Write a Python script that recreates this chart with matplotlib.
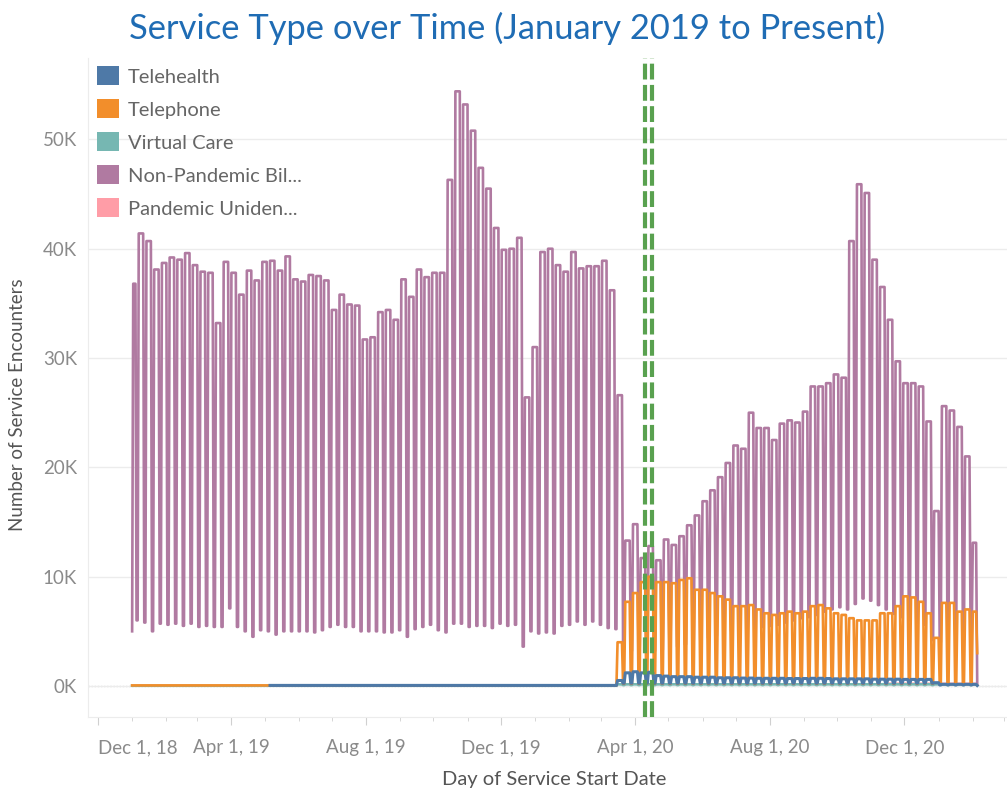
import numpy as np
import pandas as pd
import matplotlib
matplotlib.use('Agg')
import matplotlib.pyplot as plt
import matplotlib.dates as mdates
from matplotlib.patches import Patch

plt.rcParams['font.family'] = ['Lato', 'DejaVu Sans']

# weekly values (thousands of encounters), weeks start Monday Dec 31, 2018
first_monday = pd.Timestamp('2018-12-31')

# Non-Pandemic Billed: weekday peak per week
nonpan_hi = [36.8, 41.4, 40.7, 38.1, 38.7, 39.2, 39.0, 39.6, 38.5, 37.9,
             37.8, 33.2, 38.8, 37.8, 35.8, 38.0, 37.1, 38.8, 38.9, 38.0,
             39.3, 37.2, 37.0, 37.6, 37.5, 37.1, 34.4, 35.8, 34.9, 34.8,
             31.7, 31.9, 34.2, 34.4, 33.5, 37.2, 35.6, 38.1, 37.4, 37.8,
             37.8, 46.3, 54.4, 53.2, 50.8, 47.4, 45.5, 41.9, 39.9, 40.0,
             41.0, 26.4, 31.0, 39.7, 40.0, 38.5, 37.9, 39.7, 38.2, 38.4,
             38.4, 38.9, 36.2, 26.6, 13.3, 14.8, 11.7, 12.8, 11.5, 13.4,
             12.9, 13.7, 14.7, 15.6, 16.9, 17.9, 19.1, 20.4, 22.0, 21.7,
             25.0, 23.6, 23.6, 22.5, 24.0, 24.3, 24.1, 25.1, 27.4, 27.4,
             27.7, 28.5, 28.2, 40.7, 45.9, 45.1, 39.0, 36.5, 33.5, 29.7,
             27.7, 27.7, 27.4, 24.2, 16.0, 25.6, 25.2, 23.7, 21.0, 13.1]
# Non-Pandemic Billed: weekend low after each week
nonpan_lo = [6.0, 5.8, 5.0, 5.7, 5.6, 5.7, 5.5, 5.7, 5.4, 5.5,
             5.4, 5.4, 7.1, 5.4, 5.0, 4.5, 5.1, 5.0, 4.7, 5.0,
             5.0, 5.0, 5.0, 4.9, 5.1, 5.4, 5.6, 5.4, 5.4, 5.0,
             5.0, 5.0, 4.9, 4.9, 5.1, 4.5, 5.2, 5.4, 5.6, 5.1,
             4.9, 5.7, 5.7, 5.4, 5.5, 5.5, 5.3, 5.7, 5.5, 5.6,
             3.6, 5.0, 4.8, 4.9, 4.8, 5.5, 5.6, 5.9, 5.6, 5.9,
             5.6, 5.3, 5.2, 3.5, 3.2, 3.0, 3.0, 3.2, 3.3, 3.5,
             3.6, 3.8, 4.0, 4.2, 4.4, 4.6, 4.8, 5.0, 5.0, 5.2,
             5.3, 5.4, 5.5, 5.6, 5.8, 6.0, 6.2, 6.3, 6.5, 6.8,
             7.0, 7.2, 7.0, 7.5, 8.0, 7.8, 7.4, 7.0, 6.6, 6.3,
             6.0, 5.8, 5.6, 4.2, 4.0, 4.8, 5.2, 5.0, 4.8]
nonpan_first, nonpan_last = 5.0, 0.3

# Telephone
phone_hi = [0.05] * 63 + [
    4.0, 7.7, 8.5, 9.5, 10.0, 9.5, 9.5, 9.4, 9.7, 9.85,
    8.8, 8.8, 8.5, 8.2, 7.9, 7.3, 7.3, 7.4, 7.0, 6.65,
    6.5, 6.65, 6.8, 6.65, 6.8, 7.3, 7.4, 7.1, 6.65, 6.5,
    6.2, 6.0, 6.0, 6.0, 6.65, 6.65, 7.3, 8.2, 8.1, 7.7,
    6.65, 4.4, 7.6, 7.6, 6.8, 7.0, 6.8]
phone_lo = [0.05] * 63 + [0.2] * 46
phone_first, phone_last = 0.05, 3.0

# Telehealth (starts mid-May 2019)
tele_start = 18
tele_hi = [0.05] * 45 + [
    0.5, 1.2, 1.3, 1.2, 1.25, 0.95, 0.9, 0.85, 0.85, 0.85,
    0.8, 0.8, 0.8, 0.75, 0.75, 0.75, 0.72, 0.72, 0.7, 0.7,
    0.7, 0.7, 0.68, 0.68, 0.68, 0.7, 0.7, 0.68, 0.65, 0.65,
    0.65, 0.65, 0.65, 0.62, 0.62, 0.62, 0.62, 0.6, 0.6, 0.6,
    0.6, 0.3, 0.15, 0.15, 0.15, 0.15, 0.15]
tele_lo = [0.05] * 45 + [0.25] * 41 + [0.1] * 5

# Virtual Care and Pandemic Unidentified (near zero)
virtual_hi = [0.02] * 63 + [0.15] * 47
virtual_lo = [0.02] * 63 + [0.08] * 46
pandemic_start = 98
pandemic_hi = [0.2] * 12
pandemic_lo = [0.15] * 11

series_names = ['Telehealth', 'Telephone', 'Virtual Care',
                'Non-Pandemic Bil...', 'Pandemic Uniden...']
series_colors = ['#4E79A7', '#F28E2B', '#76B7B2', '#B07AA1', '#FF9DA7']

marker_dates = ['2020-04-10', '2020-04-16']
xtick_dates = ['2018-12-01', '2019-04-01', '2019-08-01', '2019-12-01',
               '2020-04-01', '2020-08-01', '2020-12-01']
xtick_labels = ['Dec 1, 18', 'Apr 1, 19', 'Aug 1, 19', 'Dec 1, 19',
                'Apr 1, 20', 'Aug 1, 20', 'Dec 1, 20']
ytick_vals = [0, 10, 20, 30, 40, 50]


def weekly_points(hi, lo, start_week=0, first=None, last=None):
    dates, vals = [], []
    nw = len(hi)
    for i in range(nw):
        mon = first_monday + pd.Timedelta(weeks=start_week + i)
        if i == 0 and first is not None:
            dates += [mon + pd.Timedelta(days=1), mon + pd.Timedelta(days=2)]
            vals += [first, hi[i]]
        else:
            dates.append(mon)
            vals.append(hi[i])
        if i == nw - 1 and last is not None:
            dates += [mon + pd.Timedelta(days=3), mon + pd.Timedelta(days=4)]
            vals += [hi[i], last]
            break
        dates.append(mon + pd.Timedelta(days=4))
        vals.append(hi[i])
        if i < len(lo):
            dates += [mon + pd.Timedelta(days=5), mon + pd.Timedelta(days=6)]
            vals += [lo[i], lo[i]]
    return dates, np.array(vals) * 1000


fig = plt.figure(figsize=(10.07, 7.92), dpi=100)
ax = fig.add_axes([88 / 1007, 1 - 717 / 792, 1 - 88 / 1007, (717 - 58) / 792])

d, v = weekly_points(pandemic_hi, pandemic_lo, pandemic_start, last=0.1)
ax.plot(d, v, color=series_colors[4], lw=1.9, zorder=2)
d, v = weekly_points(nonpan_hi, nonpan_lo, first=nonpan_first, last=nonpan_last)
ax.plot(d, v, color=series_colors[3], lw=1.9, zorder=3)
d, v = weekly_points(virtual_hi, virtual_lo, first=0.02, last=0.05)
ax.plot(d, v, color=series_colors[2], lw=1.9, zorder=4)
d, v = weekly_points(phone_hi, phone_lo, first=phone_first, last=phone_last)
ax.plot(d, v, color=series_colors[1], lw=1.9, zorder=5)
d, v = weekly_points(tele_hi, tele_lo, tele_start, last=0.05)
ax.plot(d, v, color=series_colors[0], lw=2.2, zorder=6)

for md in marker_dates:
    ax.axvline(pd.Timestamp(md), color='#59A14F', lw=3.0,
               dashes=(3.8, 1.3), zorder=7)

ax.axhline(0, color='#b0b0b0', lw=0.9, ls=(0, (1, 1.5)), zorder=1)

ax.set_xlim(pd.Timestamp('2018-11-22'), pd.Timestamp('2021-03-04'))
ax.set_ylim(-2840, 57450)

ax.set_yticks([t * 1000 for t in ytick_vals])
ax.set_yticklabels(['%dK' % t for t in ytick_vals])
ax.grid(axis='y', color='#ececec', lw=1.0, zorder=0)
ax.tick_params(axis='y', length=0, pad=8, labelsize=13.5, labelcolor='#8a8a8a')

ax.set_xticks([pd.Timestamp(t) for t in xtick_dates])
ax.set_xticklabels(xtick_labels)
ax.xaxis.set_minor_locator(mdates.MonthLocator())
ax.tick_params(axis='x', which='major', length=6, color='#d0d0d0',
               labelsize=13.5, labelcolor='#8a8a8a', pad=10)
ax.tick_params(axis='x', which='minor', length=3, color='#d0d0d0')
ax.get_xticklabels()[0].set_horizontalalignment('left')
ax.get_xticklabels()[0].set_x(pd.Timestamp('2018-11-27'))

for s in ['top', 'right']:
    ax.spines[s].set_visible(False)
ax.spines['left'].set_color('#ececec')
ax.spines['bottom'].set_color('#ececec')

handles = [Patch(facecolor=c, edgecolor='none') for c in series_colors]
leg = ax.legend(handles, series_names, loc='upper left', frameon=False,
                fontsize=14.5, handlelength=1.1, handleheight=1.1,
                labelspacing=0.67, handletextpad=0.45,
                bbox_to_anchor=((97 - 88) / 919, (717 - 66) / 659),
                borderaxespad=0, borderpad=0)
for t in leg.get_texts():
    t.set_color('#666666')

fig.text(0.504, 1 - 28 / 792, 'Service Type over Time (January 2019 to Present)',
         ha='center', va='center', fontsize=24.8, color='#1F6CB4')
fig.text(18 / 1007, 1 - 405 / 792, 'Number of Service Encounters', rotation=90,
         ha='center', va='center', fontsize=13.5, color='#555555')
fig.text(554 / 1007, 1 - 780 / 792, 'Day of Service Start Date',
         ha='center', va='center', fontsize=14.5, color='#555555')

fig.savefig('out.png', dpi=100)
